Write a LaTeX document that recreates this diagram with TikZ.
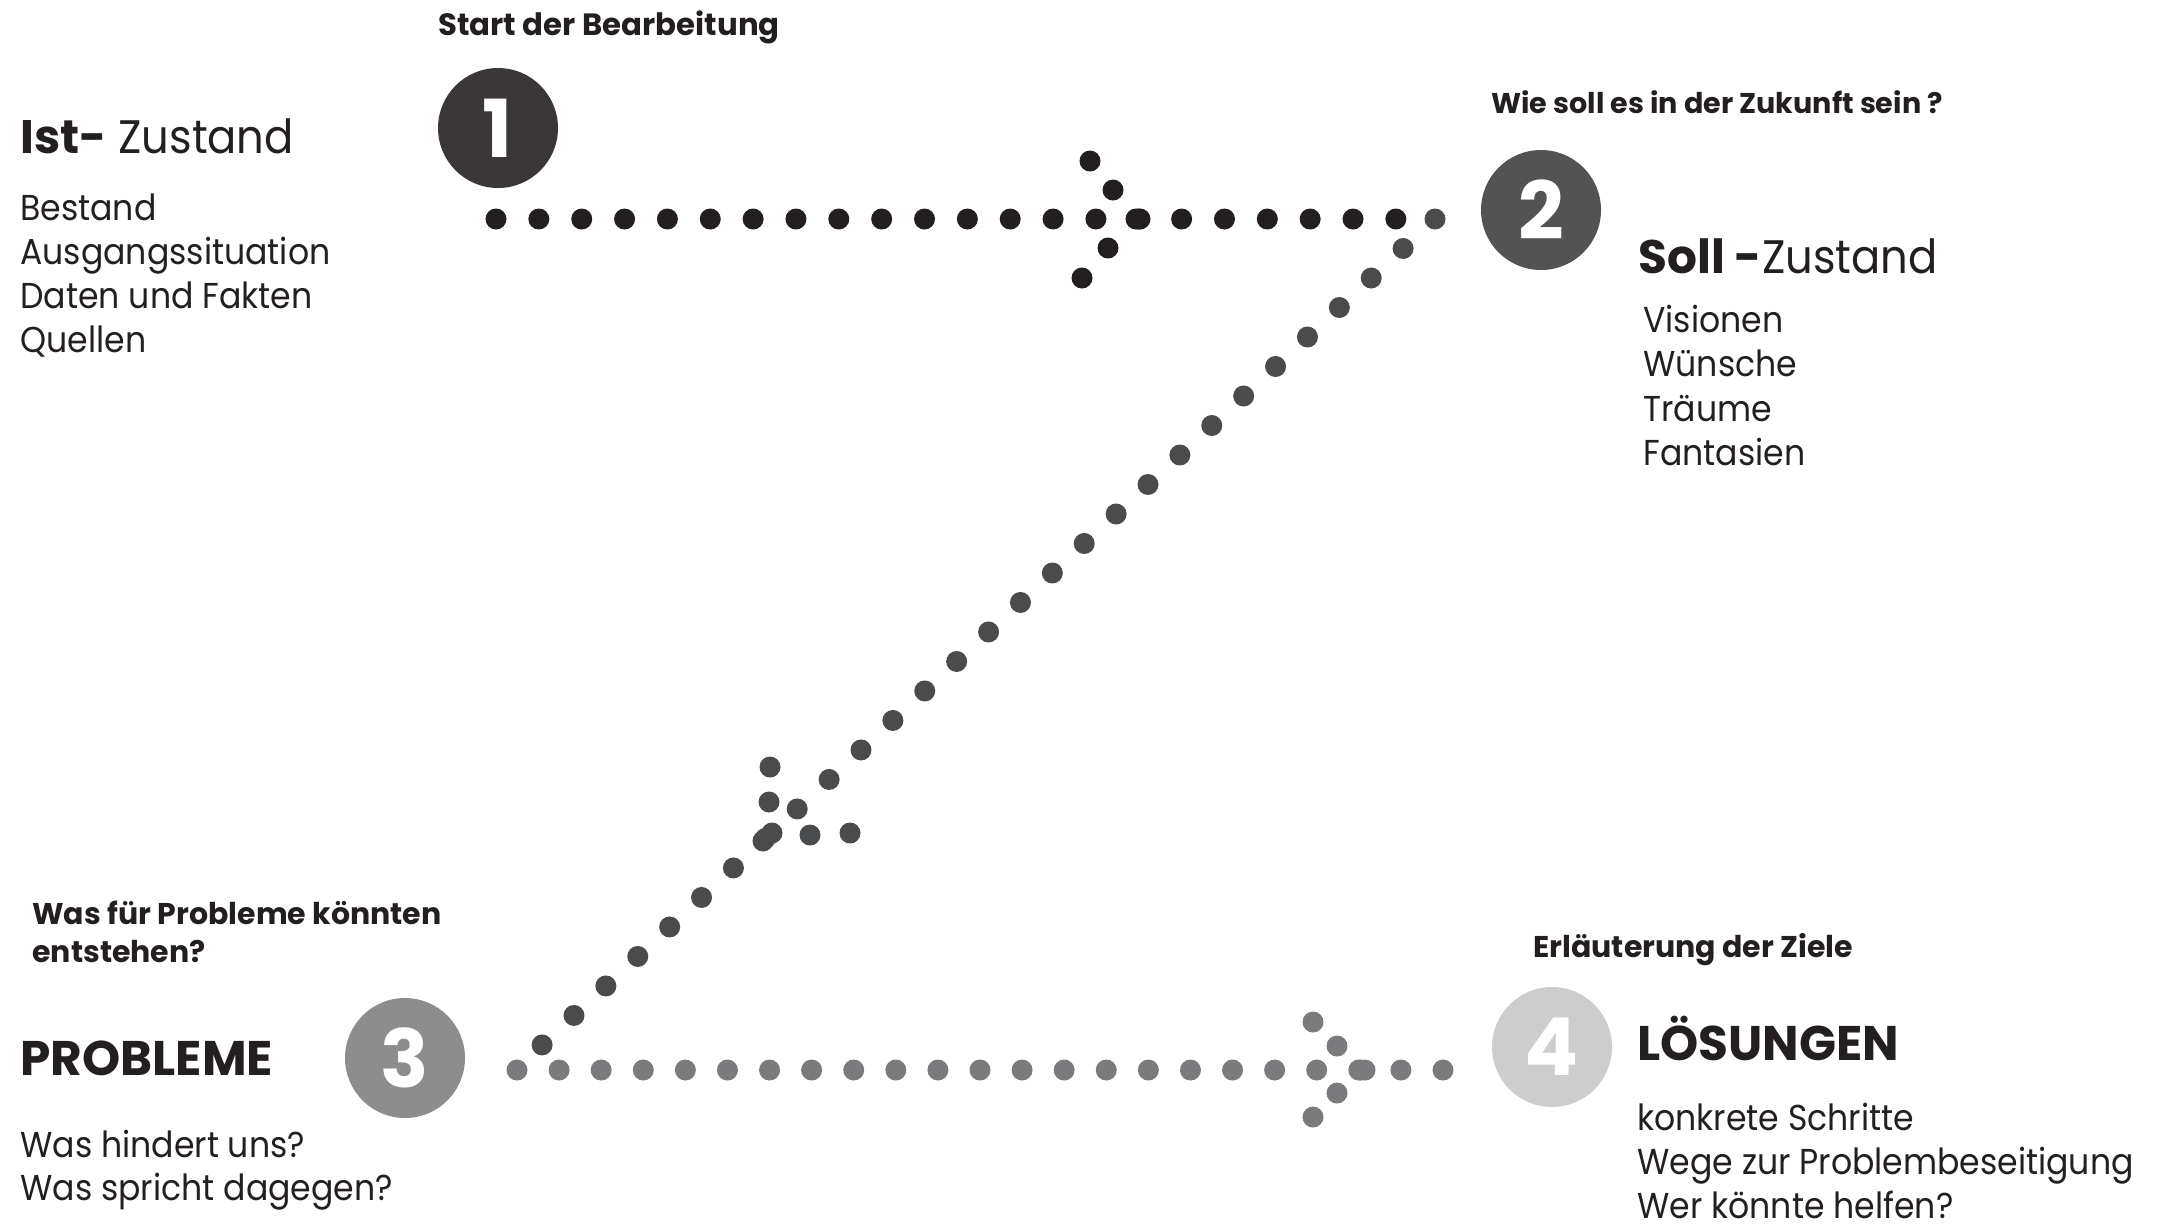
\documentclass[tikz,border=0pt]{standalone}
\usepackage{fontspec}
\setmainfont{Poppins}[UprightFeatures={FakeStretch=0.92}]
\usetikzlibrary{positioning}

\definecolor{ink}{HTML}{231F20}
\definecolor{stepone}{HTML}{3B3738}
\definecolor{steptwo}{HTML}{545354}
\definecolor{stepthree}{HTML}{8E8D8E}
\definecolor{stepfour}{HTML}{CDCDCD}
\definecolor{diagrow}{HTML}{4A4B4D}
\definecolor{lowrow}{HTML}{7B7B7D}

\tikzset{
  stepnum/.style={circle, inner sep=0pt, minimum size=60pt, text=white,
    font=\bfseries\fontsize{40}{40}\selectfont},
  headline/.style={anchor=base west, inner sep=0pt, text=ink,
    font=\fontsize{23.5}{28}\selectfont},
  bighead/.style={headline, font=\bfseries\fontsize{24.3}{28}\selectfont},
  question/.style={anchor=base west, inner sep=0pt, text=ink, align=left,
    font=\bfseries\fontsize{15}{18.8}\selectfont},
  listline/.style={anchor=base west, inner sep=0pt, text=ink,
    font=\fontsize{18}{22}\selectfont},
  dotrow/.style={line width=10.5pt, line cap=round, dash pattern=on 0pt off #1},
}

\begin{document}
\begin{tikzpicture}[x=0.5pt,y=-0.5pt]
\useasboundingbox (0,0) rectangle (2161,1228);

% the four steps
\node[stepnum, fill=stepone]   (one)   at (498,128)  {1};
\node[stepnum, fill=steptwo]   (two)   at (1541,210) {2};
\node[stepnum, fill=stepthree] (three) at (405,1058) {3};
\node[stepnum, fill=stepfour]  (four)  at (1552,1047) {4};

% Ist
\node[question, font=\bfseries\fontsize{15.4}{19}\selectfont] (startq) at (438,35) {Start der Bearbeitung};
\node[headline] (isthead) at (20,153) {\textbf{Ist-} Zustand};
\foreach \t [count=\i from 0] in {Bestand, Ausgangssituation, Daten und Fakten, Quellen}
  \node[listline] (ist\i) at (20,{220+44.3*\i}) {\t};

% Soll
\node[question, font=\bfseries\fontsize{14.3}{18}\selectfont] (sollq) at (1491,113) {Wie soll es in der Zukunft sein ?};
\node[headline] (sollhead) at (1638,273) {\textbf{Soll -}Zustand};
\foreach \t [count=\i from 0] in {Visionen, Wünsche, Träume, Fantasien}
  \node[listline] (soll\i) at (1643,{332+44.5*\i}) {\t};

% Probleme
\node[question] (probq) at (32,962) {Was für Probleme könnten\\entstehen?};
\node[bighead] (probhead) at (20,1075) {PROBLEME};
\foreach \t [count=\i from 0] in {Was hindert uns?, Was spricht dagegen?}
  \node[listline] (prob\i) at (20,{1157+43.5*\i}) {\t};

% Loesungen
\node[question] (loesq) at (1533,957) {Erläuterung der Ziele};
\node[bighead] (loeshead) at (1637,1060) {LÖSUNGEN};
\foreach \t [count=\i from 0] in {konkrete Schritte, Wege zur Problembeseitigung, Wer könnte helfen?}
  \node[listline] (loes\i) at (1637,{1130+44*\i}) {\t};

% dotted connectors
\coordinate (a0) at (496,219);
\coordinate (a1) at (1400,219);
\draw[ink, dotrow=21.425pt] (a0) -- (a1);
\foreach \p in {{1136,219},{1140,219},{1113,190},{1090,161},{1108,248},{1082,278}}
  \fill[ink] (\p) circle (5.25pt);

\coordinate (b0) at (1435,219);
\coordinate (b1) at (540.5,1046.4);
\draw[diagrow, dotrow=21.72pt] (b0) -- (b1);
\foreach \p in {{763,841},{772,833},{769,802},{770,767},{810,835},{850,833}}
  \fill[diagrow] (\p) circle (5.25pt);

\coordinate (c0) at (517,1070);
\coordinate (c1) at (1446,1070);
\draw[lowrow, dotrow=21.045pt] (c0) -- (c1);
\foreach \p in {{1361,1070},{1365,1070},{1337,1046},{1313,1022},{1337,1093},{1313,1117}}
  \fill[lowrow] (\p) circle (5.25pt);

\end{tikzpicture}
\end{document}
